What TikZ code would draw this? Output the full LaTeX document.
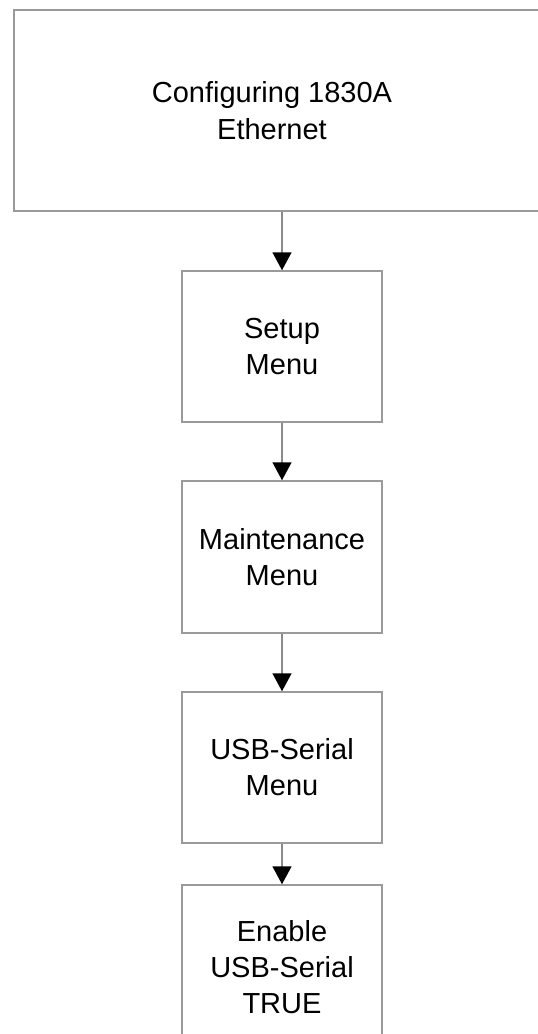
\documentclass[tikz,border=0pt]{standalone}
\usepackage{fontspec}
\setmainfont{Liberation Sans}
\usetikzlibrary{arrows.meta}
\definecolor{boxgray}{HTML}{9A9A9A}
\definecolor{linkgray}{HTML}{8A8A8A}
\begin{document}
\begin{tikzpicture}[x=1pt,y=-1pt,
  box/.style={draw=boxgray,line width=1.5pt,fill=white,minimum width=200pt,
    align=center,font=\fontsize{29}{36}\selectfont,inner sep=0pt,text=black},
  txt/.style={align=center,font=\fontsize{29}{37}\selectfont,inner sep=0pt,text=black},
  link/.style={draw=linkgray,line width=1.5pt,
    -{Triangle[width=19pt,length=18pt,color=black]}}]
\useasboundingbox (0,0) rectangle (538,1034);
\clip (0,0) rectangle (538,1034);
\fill[white] (0,0) rectangle (538,1034);

\node[box,minimum width=531pt,minimum height=201pt] (top) at (279.5,110.5) {};
\node[txt] (toplabel) at (272,110.5) {Configuring 1830A\\Ethernet};

\node[box,minimum height=151pt] (setup) at (282,346.5) {Setup\\Menu};
\node[box,minimum height=152pt] (maint) at (282,557) {Maintenance\\Menu};
\node[box,minimum height=151pt] (usb) at (282,767.5) {USB-Serial\\Menu};
\node[box,minimum height=164pt] (enable) at (282,967) {Enable\\USB-Serial\\TRUE};

\draw[link] (setup.north |- top.south) -- (setup.north);
\draw[link] (setup.south) -- (maint.north);
\draw[link] (maint.south) -- (usb.north);
\draw[link] (usb.south) -- (enable.north);
\end{tikzpicture}
\end{document}
